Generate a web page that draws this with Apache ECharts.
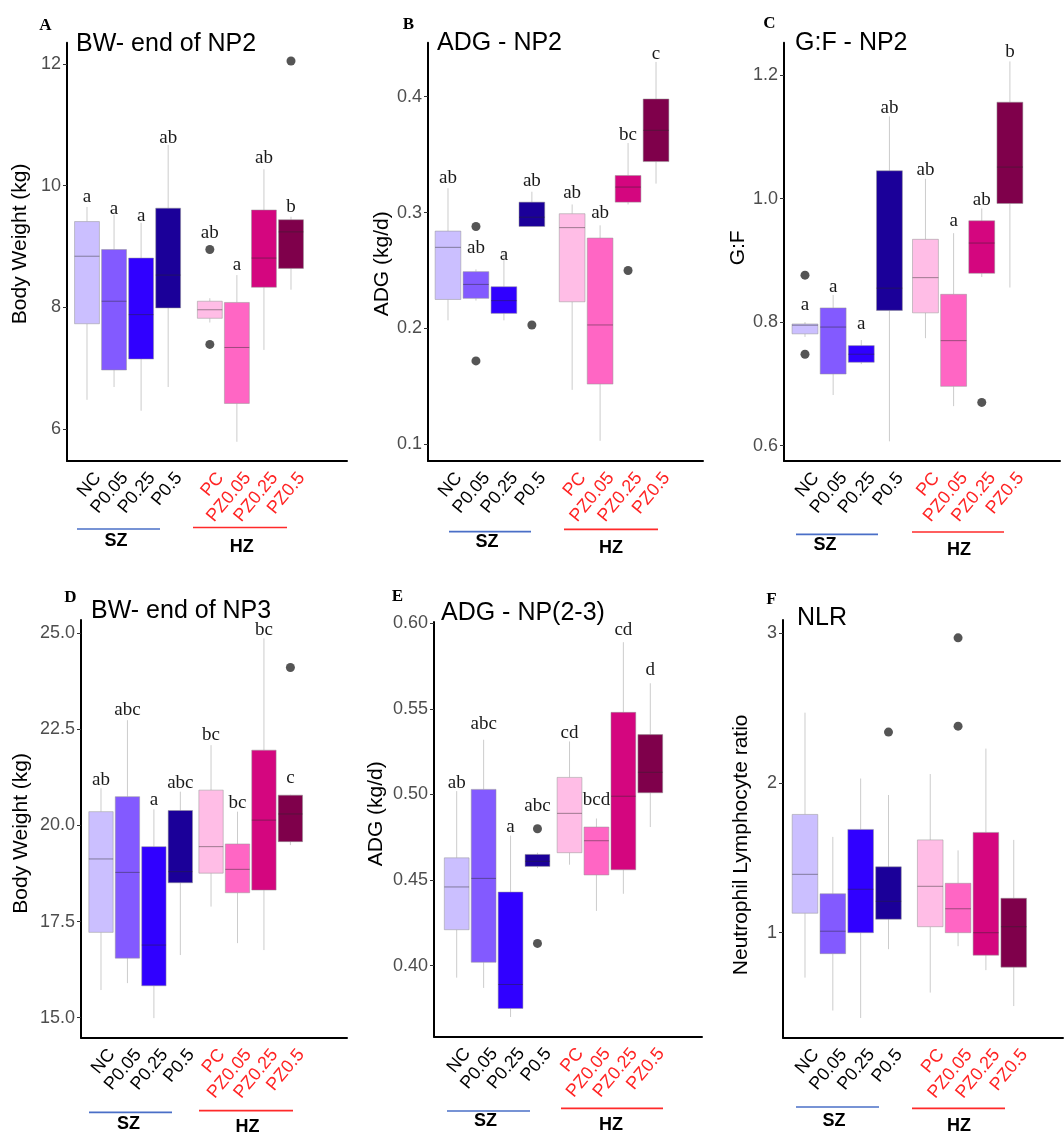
<!DOCTYPE html>
<html>
<head>
<meta charset="utf-8">
<title>Box plots - growth and NLR</title>
<script src="https://cdn.jsdelivr.net/npm/echarts@6/dist/echarts.min.js"></script>
<style>
  html, body { margin: 0; padding: 0; background: #fff; }
  #chart { width: 1064px; height: 1133px; }
</style>
</head>
<body>
<div id="chart"></div>
<script>
// treatment groups (first four = SZ, last four = HZ)
var groups = ['NC', 'P0.05', 'P0.25', 'P0.5', 'PC', 'PZ0.05', 'PZ0.25', 'PZ0.5'];
var boxColors = ['#cbbfff', '#835aff', '#3000ff', '#1b0099', '#ffbde6', '#ff66c4', '#d4067f', '#7f004b'];

// A: BW- end of NP2
var bw2Low = [6.48, 6.69, 6.30, 6.69, 7.75, 5.79, 7.30, 8.29];
var bw2Q1 = [7.73, 6.97, 7.15, 7.99, 7.82, 6.42, 8.33, 8.64];
var bw2Median = [8.84, 8.10, 7.88, 8.53, 7.96, 7.34, 8.81, 9.24];
var bw2Q3 = [9.41, 8.95, 8.81, 9.63, 8.10, 8.08, 9.60, 9.44];
var bw2High = [9.65, 9.52, 9.39, 10.67, 8.15, 8.53, 10.27, 9.49];
var bw2Outliers = [[4, 8.95], [4, 7.39], [7, 12.05]];
var bw2Letters = ['a', 'a', 'a', 'ab', 'ab', 'a', 'ab', 'b'];
var bw2LetterAt = [9.82, 9.62, 9.50, 10.78, 9.22, 8.70, 10.46, 9.65];
var bw2Ticks = [6, 8, 10, 12];

// B: ADG - NP2
var adg2Low = [0.207, 0.224, 0.207, 0.288, 0.147, 0.103, 0.307, 0.325];
var adg2Q1 = [0.225, 0.226, 0.213, 0.288, 0.223, 0.152, 0.309, 0.344];
var adg2Median = [0.270, 0.238, 0.224, 0.296, 0.287, 0.203, 0.322, 0.371];
var adg2Q3 = [0.284, 0.249, 0.236, 0.309, 0.299, 0.278, 0.332, 0.398];
var adg2High = [0.321, 0.251, 0.266, 0.318, 0.307, 0.289, 0.360, 0.430];
var adg2Outliers = [[1, 0.288], [1, 0.172], [3, 0.203], [6, 0.250]];
var adg2Letters = ['ab', 'ab', 'a', 'ab', 'ab', 'ab', 'bc', 'c'];
var adg2LetterAt = [0.330, 0.269, 0.263, 0.327, 0.317, 0.300, 0.367, 0.437];
var adg2Ticks = [0.1, 0.2, 0.3, 0.4];

// C: G:F - NP2
var gf2Low = [0.776, 0.682, 0.732, 0.607, 0.774, 0.664, 0.873, 0.856];
var gf2Q1 = [0.781, 0.716, 0.735, 0.819, 0.815, 0.696, 0.879, 0.992];
var gf2Median = [0.795, 0.792, 0.748, 0.855, 0.872, 0.770, 0.928, 1.051];
var gf2Q3 = [0.797, 0.823, 0.762, 1.045, 0.934, 0.845, 0.964, 1.156];
var gf2High = [0.800, 0.844, 0.771, 1.133, 1.032, 0.944, 0.984, 1.222];
var gf2Outliers = [[0, 0.876], [0, 0.748], [6, 0.670]];
var gf2Letters = ['a', 'a', 'a', 'ab', 'ab', 'a', 'ab', 'b'];
var gf2LetterAt = [0.828, 0.857, 0.797, 1.146, 1.046, 0.963, 0.998, 1.238];
var gf2Ticks = [0.6, 0.8, 1.0, 1.2];

// D: BW- end of NP3
var bw3Low = [15.72, 15.90, 14.99, 16.63, 17.89, 16.94, 16.76, 19.49];
var bw3Q1 = [17.22, 16.55, 15.83, 18.51, 18.76, 18.25, 18.32, 19.58];
var bw3Median = [19.13, 18.78, 16.89, 18.80, 19.45, 18.86, 20.14, 20.30];
var bw3Q3 = [20.36, 20.75, 19.45, 20.39, 20.92, 19.52, 21.96, 20.79];
var bw3High = [20.97, 22.74, 20.42, 20.88, 22.09, 20.36, 24.87, 20.80];
var bw3Outliers = [[7, 24.11]];
var bw3Letters = ['ab', 'abc', 'a', 'abc', 'bc', 'bc', 'bc', 'c'];
var bw3LetterAt = [21.18, 23.01, 20.66, 21.10, 22.35, 20.58, 25.09, 21.23];
var bw3Ticks = [15, 17.5, 20, 22.5, 25];

// E: ADG - NP(2-3)
var adg23Low = [0.393, 0.387, 0.370, 0.457, 0.459, 0.432, 0.442, 0.481];
var adg23Q1 = [0.421, 0.402, 0.375, 0.458, 0.466, 0.453, 0.456, 0.501];
var adg23Median = [0.446, 0.451, 0.389, 0.461, 0.489, 0.473, 0.499, 0.513];
var adg23Q3 = [0.463, 0.503, 0.443, 0.465, 0.510, 0.481, 0.548, 0.535];
var adg23High = [0.502, 0.532, 0.476, 0.466, 0.531, 0.486, 0.589, 0.565];
var adg23Outliers = [[3, 0.480], [3, 0.413]];
var adg23Letters = ['ab', 'abc', 'a', 'abc', 'cd', 'bcd', 'cd', 'd'];
var adg23LetterAt = [0.507, 0.541, 0.481, 0.493, 0.536, 0.497, 0.596, 0.573];
var adg23Ticks = [0.40, 0.45, 0.50, 0.55, 0.60];

// F: NLR
var nlrLow = [0.70, 0.48, 0.43, 0.89, 0.60, 0.91, 0.75, 0.51];
var nlrQ1 = [1.13, 0.86, 1.00, 1.09, 1.04, 1.00, 0.85, 0.77];
var nlrMedian = [1.39, 1.01, 1.29, 1.21, 1.31, 1.16, 1.00, 1.04];
var nlrQ3 = [1.79, 1.26, 1.69, 1.44, 1.62, 1.33, 1.67, 1.23];
var nlrHigh = [2.47, 1.64, 2.03, 1.92, 2.06, 1.55, 2.23, 1.62];
var nlrOutliers = [[3, 2.34], [5, 2.97], [5, 2.38]];
var nlrTicks = [1, 2, 3];

var panels = [
  { letter: 'A', title: 'BW- end of NP2', yName: 'Body Weight (kg)',
    low: bw2Low, q1: bw2Q1, median: bw2Median, q3: bw2Q3, high: bw2High,
    outliers: bw2Outliers, letters: bw2Letters, letterAt: bw2LetterAt, ticks: bw2Ticks, decimals: 0,
    grid: { left: 67, top: 42.7, width: 280, height: 418.3 }, yMin: 5.474, yMax: 12.35,
    xMin: 0.261, xMax: 10.61, gap: 1.54, nameGap: 36, nameShift: 8,
    titlePos: [76, 44], letterPos: [45.5, 25.5],
    sz: { x1: 77, x2: 160, y: 529, tx: 116, ty: 541.5 }, hz: { x1: 193, x2: 287, y: 527.5, tx: 241.7, ty: 547 } },
  { letter: 'B', title: 'ADG - NP2', yName: 'ADG (kg/d)',
    low: adg2Low, q1: adg2Q1, median: adg2Median, q3: adg2Q3, high: adg2High,
    outliers: adg2Outliers, letters: adg2Letters, letterAt: adg2LetterAt, ticks: adg2Ticks, decimals: 1,
    grid: { left: 428, top: 42.7, width: 275, height: 418.3 }, yMin: 0.0856, yMax: 0.4466,
    xMin: 0.285, xMax: 10.12, gap: 1.44, nameGap: 34, nameShift: -12,
    titlePos: [437, 43], letterPos: [408.5, 25],
    sz: { x1: 449, x2: 531, y: 531.7, tx: 487, ty: 542.5 }, hz: { x1: 564, x2: 658, y: 529.3, tx: 611, ty: 548 } },
  { letter: 'C', title: 'G:F - NP2', yName: 'G:F',
    low: gf2Low, q1: gf2Q1, median: gf2Median, q3: gf2Q3, high: gf2High,
    outliers: gf2Outliers, letters: gf2Letters, letterAt: gf2LetterAt, ticks: gf2Ticks, decimals: 1,
    grid: { left: 784, top: 42.7, width: 276, height: 418.3 }, yMin: 0.5752, yMax: 1.2523,
    xMin: 0.254, xMax: 10.06, gap: 1.28, nameGap: 25, nameShift: 4,
    titlePos: [795, 43.5], letterPos: [769.5, 23.5],
    sz: { x1: 796, x2: 878, y: 534.3, tx: 825, ty: 545 }, hz: { x1: 912, x2: 1004, y: 532, tx: 959, ty: 550.5 } },
  { letter: 'D', title: 'BW- end of NP3', yName: 'Body Weight (kg)',
    low: bw3Low, q1: bw3Q1, median: bw3Median, q3: bw3Q3, high: bw3High,
    outliers: bw3Outliers, letters: bw3Letters, letterAt: bw3LetterAt, ticks: bw3Ticks, decimals: 1,
    grid: { left: 81, top: 620, width: 266, height: 417.7 }, yMin: 14.48, yMax: 25.346,
    xMin: 0.244, xMax: 10.3, gap: 1.16, nameGap: 49, nameShift: -4.5,
    titlePos: [91, 611], letterPos: [70.5, 597.5],
    sz: { x1: 89, x2: 172, y: 1112.3, tx: 128.5, ty: 1124.5 }, hz: { x1: 199, x2: 293, y: 1110.7, tx: 247.5, ty: 1127 } },
  { letter: 'E', title: 'ADG - NP(2-3)', yName: 'ADG (kg/d)',
    low: adg23Low, q1: adg23Q1, median: adg23Median, q3: adg23Q3, high: adg23High,
    outliers: adg23Outliers, letters: adg23Letters, letterAt: adg23LetterAt, ticks: adg23Ticks, decimals: 2,
    grid: { left: 434, top: 622, width: 268, height: 414.7 }, yMin: 0.3585, yMax: 0.6008,
    xMin: 0.157, xMax: 10.11, gap: 1.19, nameGap: 47, nameShift: 15.6,
    titlePos: [441, 613.5], letterPos: [397.5, 596.5],
    sz: { x1: 447, x2: 530, y: 1111, tx: 485.5, ty: 1121.5 }, hz: { x1: 561, x2: 663, y: 1108.3, tx: 611, ty: 1125 } },
  { letter: 'F', title: 'NLR', yName: 'Neutrophil Lymphocyte ratio',
    low: nlrLow, q1: nlrQ1, median: nlrMedian, q3: nlrQ3, high: nlrHigh,
    outliers: nlrOutliers, letters: null, letterAt: null, ticks: nlrTicks, decimals: 0,
    grid: { left: 783, top: 620, width: 280, height: 417.7 }, yMin: 0.2986, yMax: 3.089,
    xMin: 0.21, xMax: 10.27, gap: 1.5, nameGap: 31, nameShift: -16,
    titlePos: [797, 618], letterPos: [771.5, 600],
    sz: { x1: 796, x2: 879, y: 1107, tx: 834, ty: 1121.5 }, hz: { x1: 912, x2: 1005, y: 1108.3, tx: 959, ty: 1126.5 } }
];

var SANS = '"Liberation Sans", Arial, sans-serif';
var SERIF = '"Liberation Serif", "Times New Roman", serif';
var BOX_WIDTH = 0.92;

function xPos (i, gap) {
  return i < 4 ? i + 1 : i + gap;
}

function boxRenderer (panel) {
  return function (params, api) {
    var i = params.dataIndex;
    var x = api.value(0);
    var lo = api.coord([x, api.value(1)]);
    var q1 = api.coord([x, api.value(2)]);
    var med = api.coord([x, api.value(3)]);
    var q3 = api.coord([x, api.value(4)]);
    var hi = api.coord([x, api.value(5)]);
    var w = api.size([BOX_WIDTH, 0])[0];
    var children = [
      { type: 'line', shape: { x1: hi[0], y1: hi[1], x2: q3[0], y2: q3[1] }, style: { stroke: '#cccccc', lineWidth: 1 } },
      { type: 'line', shape: { x1: lo[0], y1: lo[1], x2: q1[0], y2: q1[1] }, style: { stroke: '#cccccc', lineWidth: 1 } },
      { type: 'rect', shape: { x: q3[0] - w / 2, y: q3[1], width: w, height: q1[1] - q3[1] },
        style: { fill: boxColors[i], stroke: 'rgba(150,150,150,0.5)', lineWidth: 1 } },
      { type: 'line', shape: { x1: med[0] - w / 2, y1: med[1], x2: med[0] + w / 2, y2: med[1] },
        style: { stroke: 'rgba(40,40,40,0.45)', lineWidth: 1 } }
    ];
    if (panel.letters) {
      var lp = api.coord([x, api.value(6)]);
      children.push({ type: 'text', x: lp[0], y: lp[1],
        style: { text: panel.letters[i], font: '19px ' + SERIF, fill: '#1a1a1a', align: 'center', verticalAlign: 'middle' } });
    }
    return { type: 'group', children: children };
  };
}

var grids = [], xAxes = [], yAxes = [], series = [], graphics = [];

panels.forEach(function (p, k) {
  var positions = groups.map(function (g, i) { return xPos(i, p.gap); });
  grids.push({ left: p.grid.left, top: p.grid.top, width: p.grid.width, height: p.grid.height });

  xAxes.push({
    type: 'value', gridIndex: k, min: p.xMin, max: p.xMax,
    splitLine: { show: false },
    axisTick: { show: false },
    axisLine: { show: true, onZero: false, lineStyle: { color: '#000', width: 2 } },
    axisLabel: {
      customValues: positions,
      rotate: 50, align: 'right', verticalAlign: 'top', margin: 5,
      padding: [5, 0, 0, 0],
      fontSize: 18, fontFamily: SANS,
      formatter: function (v) {
        var idx = positions.findIndex(function (q) { return Math.abs(q - v) < 1e-6; });
        return idx >= 0 ? groups[idx] : '';
      },
      color: function (v) {
        var idx = positions.findIndex(function (q) { return Math.abs(q - parseFloat(v)) < 1e-6; });
        return idx >= 4 ? '#ff2323' : '#000';
      }
    }
  });

  var pad = p.nameShift >= 0 ? [0, 0, 0, 2 * p.nameShift] : [0, -2 * p.nameShift, 0, 0];
  yAxes.push({
    type: 'value', gridIndex: k, min: p.yMin, max: p.yMax,
    name: p.yName, nameLocation: 'middle', nameGap: p.nameGap,
    nameTextStyle: { fontFamily: SANS, fontSize: 21, color: '#000', padding: pad },
    splitLine: { show: false },
    axisLine: { show: true, onZero: false, lineStyle: { color: '#000', width: 2 } },
    axisTick: { show: true, length: 4, customValues: p.ticks, lineStyle: { color: '#333', width: 1 } },
    axisLabel: {
      customValues: p.ticks, margin: 6, fontSize: 18, fontFamily: SANS, color: '#4d4d4d',
      formatter: function (v) { return Number(v).toFixed(p.decimals); }
    }
  });

  var boxData = p.low.map(function (v, i) {
    return [positions[i], p.low[i], p.q1[i], p.median[i], p.q3[i], p.high[i], p.letterAt ? p.letterAt[i] : p.high[i]];
  });
  series.push({
    type: 'custom', name: p.title, xAxisIndex: k, yAxisIndex: k,
    renderItem: boxRenderer(p), clip: false, silent: true,
    encode: { x: 0, y: [1, 2, 3, 4, 5] },
    data: boxData
  });
  series.push({
    type: 'scatter', xAxisIndex: k, yAxisIndex: k, silent: true, z: 5,
    symbolSize: 9, itemStyle: { color: '#2b2b2b' },
    data: p.outliers.map(function (o) { return [positions[o[0]], o[1]]; })
  });

  graphics.push({ type: 'text', x: p.letterPos[0], y: p.letterPos[1],
    style: { text: p.letter, font: 'bold 17px ' + SERIF, fill: '#000', align: 'center', verticalAlign: 'middle' } });
  graphics.push({ type: 'text', x: p.titlePos[0], y: p.titlePos[1],
    style: { text: p.title, font: '25px ' + SANS, fill: '#000', align: 'left', verticalAlign: 'middle' } });
  graphics.push({ type: 'line', shape: { x1: p.sz.x1, y1: p.sz.y, x2: p.sz.x2, y2: p.sz.y },
    style: { stroke: '#4a6fc7', lineWidth: 1.7 } });
  graphics.push({ type: 'text', x: p.sz.tx, y: p.sz.ty,
    style: { text: 'SZ', font: 'bold 18px ' + SANS, fill: '#000', align: 'center', verticalAlign: 'middle' } });
  graphics.push({ type: 'line', shape: { x1: p.hz.x1, y1: p.hz.y, x2: p.hz.x2, y2: p.hz.y },
    style: { stroke: '#ff2a2a', lineWidth: 1.7 } });
  graphics.push({ type: 'text', x: p.hz.tx, y: p.hz.ty,
    style: { text: 'HZ', font: 'bold 18px ' + SANS, fill: '#000', align: 'center', verticalAlign: 'middle' } });
});

var chart = echarts.init(document.getElementById('chart'));
chart.setOption({
  animation: false,
  backgroundColor: '#fff',
  grid: grids,
  xAxis: xAxes,
  yAxis: yAxes,
  series: series,
  graphic: graphics
});
</script>
</body>
</html>
